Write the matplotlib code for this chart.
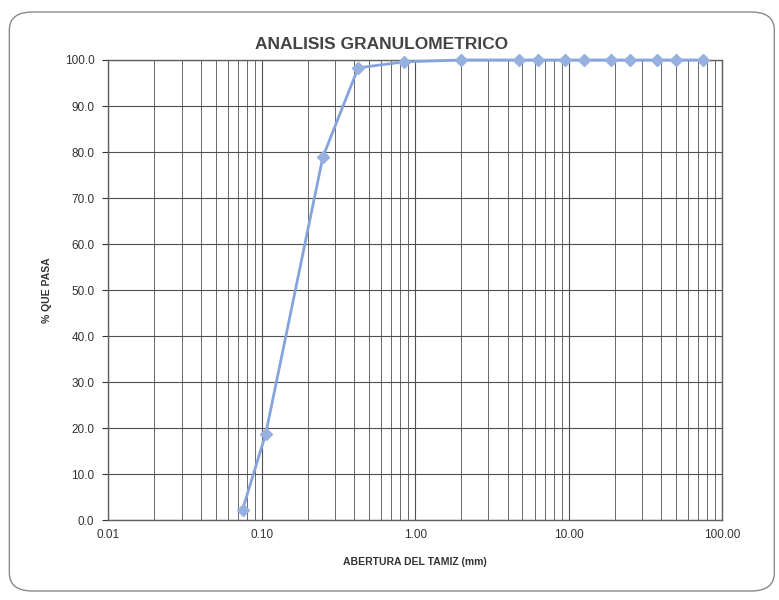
import numpy as np
import matplotlib.pyplot as plt
from matplotlib.patches import FancyBboxPatch
from matplotlib.ticker import FixedLocator, FuncFormatter, LogLocator, NullFormatter

plt.rcParams['font.family'] = ['Liberation Sans', 'DejaVu Sans']

# sieve openings (mm) and percent passing
abertura = [0.075, 0.106, 0.25, 0.425, 0.85, 2.0, 4.75, 6.3, 9.5, 12.5, 19.0, 25.0, 37.5, 50.0, 75.0]
pasa = [2.3, 18.7, 78.9, 98.3, 99.6, 100.0, 100.0, 100.0, 100.0, 100.0, 100.0, 100.0, 100.0, 100.0, 100.0]

x_ticks = [0.01, 0.1, 1, 10, 100]
x_labels = ["0.01", "0.10", "1.00", "10.00", "100.00"]
y_ticks = np.arange(0, 101, 10)

fig = plt.figure(figsize=(7.79, 6.0), dpi=100)
fig.patch.set_facecolor('white')

# rounded frame around the whole chart
frame = FancyBboxPatch((0.012, 0.015), 0.982, 0.965, boxstyle="round,pad=0,rounding_size=0.03",
                       transform=fig.transFigure, facecolor='none', edgecolor='#8a8a8a', linewidth=1.0)
fig.patches.append(frame)

ax = fig.add_axes([0.139, 0.133, 0.788, 0.767])
ax.set_xscale('log')
ax.set_xlim(0.01, 100)
ax.set_ylim(0, 100)

ax.xaxis.set_major_locator(FixedLocator(x_ticks))
ax.xaxis.set_major_formatter(FuncFormatter(lambda v, p: x_labels[x_ticks.index(v)] if v in x_ticks else ""))
ax.xaxis.set_minor_locator(LogLocator(base=10, subs=np.arange(2, 10)))
ax.xaxis.set_minor_formatter(NullFormatter())
ax.set_yticks(y_ticks)
ax.set_yticklabels([f"{v:.1f}" for v in y_ticks])

ax.grid(True, which='major', axis='both', color='#505050', linewidth=0.8)
ax.grid(True, which='minor', axis='x', color='#505050', linewidth=0.6)
ax.set_axisbelow(True)

ax.tick_params(axis='both', which='both', length=0, labelsize=8.5, colors='#333333', pad=6)
ax.tick_params(axis='y', length=4, direction='out')
for s in ax.spines.values():
    s.set_color('#606060')
    s.set_linewidth(1.0)

ax.plot(abertura, pasa, color='#86a4dc', linewidth=2, marker='D', markersize=6,
        markerfacecolor='#96b0e0', markeredgecolor='#96b0e0', clip_on=False, zorder=3)

fig.text(0.49, 0.913, "ANALISIS GRANULOMETRICO", ha='center', va='bottom',
         fontsize=12.5, fontweight='bold', color='#444444')
ax.set_xlabel("ABERTURA DEL TAMIZ (mm)", fontsize=7.5, fontweight='bold', color='#333333', labelpad=12)
ax.set_ylabel("% QUE PASA", fontsize=7.5, fontweight='bold', color='#333333', labelpad=9)

fig.savefig('out.png', dpi=100)
